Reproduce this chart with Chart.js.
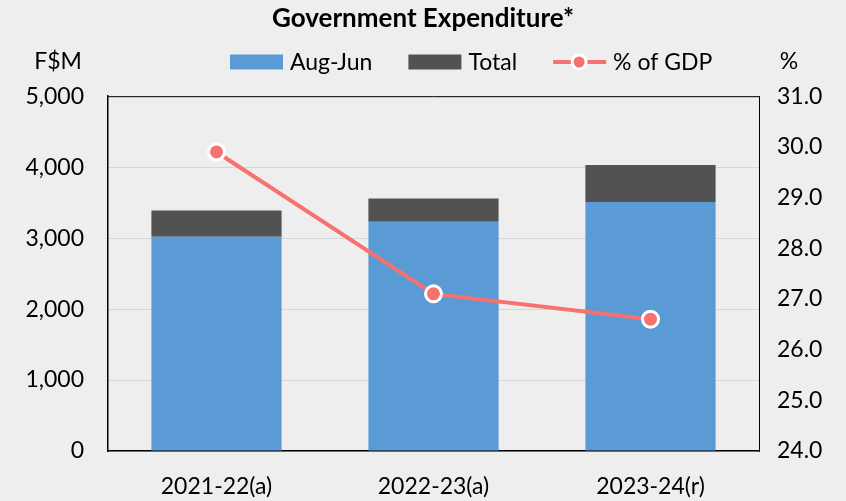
<!DOCTYPE html>
<html>
<head>
<meta charset="utf-8">
<script src="https://cdn.jsdelivr.net/npm/chart.js@4.4.1/dist/chart.umd.min.js"></script>
<style>
  html, body { margin: 0; padding: 0; background: #efeeee; }
  #wrap { width: 846px; height: 501px; }
</style>
</head>
<body>
<div id="wrap"><canvas id="expChart" width="846" height="501"></canvas></div>
<script>
var years = ['2021-22(a)', '2022-23(a)', '2023-24(r)'];
var augJun = [3020, 3230, 3510];
var totalRest = [370, 330, 520];   // dark part on top of Aug-Jun
var gdpShare = [29.9, 27.1, 26.6];

var blue = '#5b9bd5', dark = '#525252', red = '#f87171';
var fontFam = 'Lato, "Open Sans", sans-serif';

// legend + the two unit labels above the axes, drawn by hand
var topLabels = {
    id: 'topLabels',
    afterDraw: function(chart) {
        var c = chart.ctx, y = 62;
        c.save();
        c.font = '23px ' + fontFam;
        c.fillStyle = '#000';
        c.textBaseline = 'middle';
        c.textAlign = 'center';
        c.fillText('F$M', 58, y);
        c.fillText('%', 789, y);
        c.textAlign = 'left';

        var x = 230;
        chart.data.datasets.forEach(function(ds) {
            if (ds.type === 'line') {
                c.strokeStyle = ds.borderColor; c.lineWidth = 4;
                c.beginPath(); c.moveTo(x, y); c.lineTo(x + 53, y); c.stroke();
                c.beginPath(); c.arc(x + 26, y, 7, 0, Math.PI * 2);
                c.fillStyle = ds.borderColor; c.fill();
                c.lineWidth = 3; c.strokeStyle = '#fff'; c.stroke();
            } else {
                c.fillStyle = ds.backgroundColor;
                c.fillRect(x, y - 7.5, 53, 15);
            }
            x += 60;
            c.fillStyle = '#000';
            c.fillText(ds.label, x, y + 1);
            x += c.measureText(ds.label).width + 36;
        });
        c.restore();
    }
};

var ctx = document.getElementById('expChart').getContext('2d');
var chart = new Chart(ctx, {
    type: 'bar',
    data: {
        labels: years,
        datasets: [{
            label: 'Aug-Jun',
            data: augJun,
            backgroundColor: blue,
            stack: 's',
            order: 1,
            yAxisID: 'y'
        }, {
            label: 'Total',
            data: totalRest,
            backgroundColor: dark,
            stack: 's',
            order: 1,
            yAxisID: 'y'
        }, {
            type: 'line',
            label: '% of GDP',
            data: gdpShare,
            borderColor: red,
            borderWidth: 4,
            pointRadius: 8,
            pointBackgroundColor: red,
            pointBorderColor: '#fff',
            pointBorderWidth: 3,
            order: 0,
            yAxisID: 'y1'
        }]
    },
    options: {
        responsive: false,
        animation: false,
        categoryPercentage: 0.6,
        barPercentage: 1,
        plugins: {
            tooltip: { enabled: false },
            legend: { display: false },
            title: {
                display: true,
                text: 'Government Expenditure*',
                color: '#000',
                font: { family: fontFam, size: 26, weight: 'bold' },
                padding: { top: 3, bottom: 62 }
            }
        },
        scales: {
            x: {
                grid: { display: false, drawTicks: false },
                border: { color: '#000', width: 1.5 },
                ticks: { color: '#000', font: { family: fontFam, size: 23 }, padding: 22 },
                afterFit: function(s) { s.height = 50; }
            },
            y: {
                position: 'left',
                min: 0, max: 5000,
                ticks: {
                    stepSize: 1000, color: '#000', padding: 24,
                    font: { family: fontFam, size: 23 },
                    callback: function(v) { return v.toLocaleString('en-US'); }
                },
                grid: { color: '#d6d6d6', lineWidth: 1, drawTicks: false },
                border: { color: '#000', width: 1.5 },
                afterFit: function(s) { s.width = 108; }
            },
            y1: {
                position: 'right',
                min: 24, max: 31,
                ticks: {
                    stepSize: 1, color: '#000', padding: 18,
                    font: { family: fontFam, size: 23 },
                    callback: function(v) { return v.toFixed(1); }
                },
                grid: { display: false, drawTicks: false },
                border: { color: '#000', width: 1 },
                afterFit: function(s) { s.width = 87; }
            }
        }
    },
    plugins: [topLabels, {
        id: 'frame',
        afterDatasetsDraw: function(chart) {
            var a = chart.chartArea, c = chart.ctx;
            c.save();
            c.strokeStyle = '#000'; c.lineWidth = 1;
            c.beginPath();
            c.moveTo(a.left, a.top + 0.5); c.lineTo(a.right, a.top + 0.5);
            c.stroke();
            c.restore();
        }
    }]
});
</script>
</body>
</html>
